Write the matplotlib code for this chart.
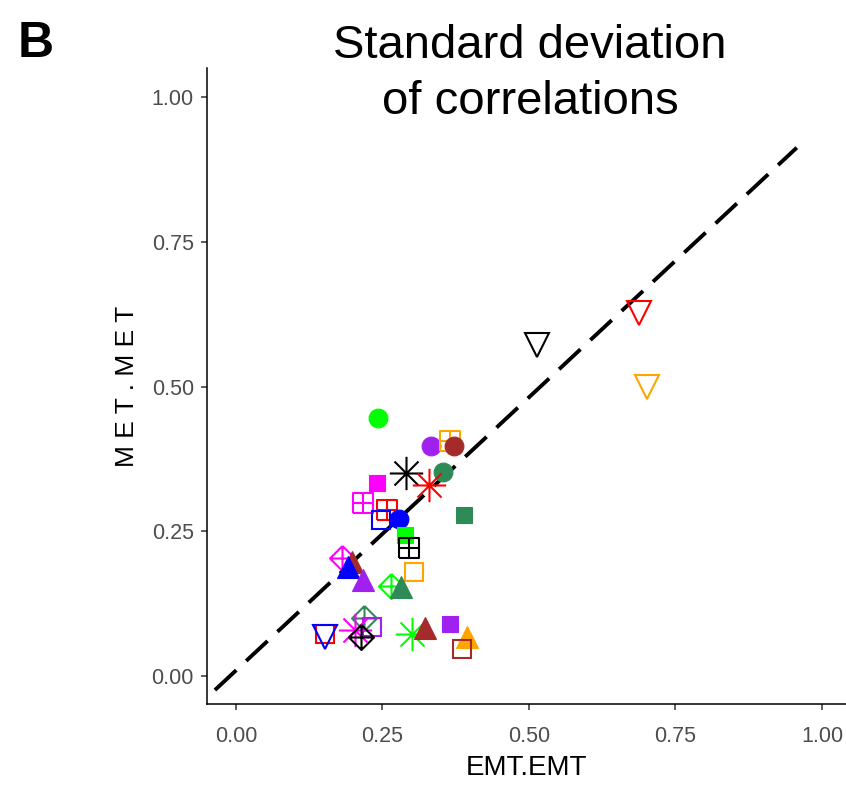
import matplotlib
matplotlib.use("Agg")
import matplotlib.pyplot as plt
from matplotlib.path import Path

# ---- data ----
emt = [0.242, 0.333, 0.365, 0.372, 0.290, 0.353, 0.329, 0.241, 0.217, 0.258,
       0.247, 0.278, 0.389, 0.288, 0.295, 0.304, 0.181, 0.198, 0.191, 0.217,
       0.264, 0.282, 0.152, 0.152, 0.218, 0.232, 0.203, 0.213, 0.300, 0.323,
       0.365, 0.394, 0.386, 0.514, 0.688, 0.701]
met = [0.446, 0.397, 0.406, 0.397, 0.351, 0.352, 0.330, 0.333, 0.299, 0.287,
       0.269, 0.271, 0.278, 0.244, 0.221, 0.180, 0.204, 0.197, 0.188, 0.166,
       0.155, 0.154, 0.073, 0.067, 0.100, 0.085, 0.079, 0.067, 0.073, 0.083,
       0.090, 0.067, 0.047, 0.572, 0.627, 0.499]
colors = ["#00FF00", "#A020F0", "#FFA500", "#A52A2A", "#000000", "#2E8B57",
          "#FF0000", "#FF00FF", "#FF00FF", "#FF0000", "#0000FF", "#0000FF",
          "#2E8B57", "#00FF00", "#000000", "#FFA500", "#FF00FF", "#A52A2A",
          "#0000FF", "#A020F0", "#00FF00", "#2E8B57", "#FF0000", "#0000FF",
          "#2E8B57", "#A020F0", "#FF00FF", "#000000", "#00FF00", "#A52A2A",
          "#A020F0", "#FFA500", "#A52A2A", "#000000", "#FF0000", "#FFA500"]
shapes = ["circle", "circle", "sqplus", "circle", "aster", "circle",
          "aster", "square", "sqplus", "sqplus", "opensq", "circle",
          "square", "square", "sqplus", "opensq", "diaplus", "triangle",
          "triangle", "triangle", "diaplus", "triangle", "opensq", "tridown",
          "diaplus", "opensq", "aster", "diaplus", "aster", "triangle",
          "square", "triangle", "opensq", "tridown", "tridown", "tridown"]
# reference line (slope, intercept) and its extent
line_slope = 0.943
line_intercept = 0.010
line_x = [-0.036, 0.957]

x_ticks = [0.0, 0.25, 0.5, 0.75, 1.0]
y_ticks = [0.0, 0.25, 0.5, 0.75, 1.0]
tick_labels = ["0.00", "0.25", "0.50", "0.75", "1.00"]

plt.rcParams["font.family"] = ["Liberation Sans", "DejaVu Sans"]

# ---- markers ----
M, L = Path.MOVETO, Path.LINETO
sqplus = Path([(-1, -1), (1, -1), (1, 1), (-1, 1), (-1, -1),
               (-1, 0), (1, 0), (0, -1), (0, 1)],
              [M, L, L, L, L, M, L, M, L])
diaplus = Path([(0, 1), (1, 0), (0, -1), (-1, 0), (0, 1),
                (-1, 0), (1, 0), (0, -1), (0, 1)],
               [M, L, L, L, L, M, L, M, L])
a = 0.72
aster = Path([(-1, 0), (1, 0), (0, -1), (0, 1), (-a, -a), (a, a), (-a, a), (a, -a)],
             [M, L, M, L, M, L, M, L])

style = {
    "circle":   dict(marker="o", s=13.5, filled=True),
    "square":   dict(marker="s", s=11.5, filled=True),
    "opensq":   dict(marker="s", s=12.5, filled=False),
    "sqplus":   dict(marker=sqplus, s=14, filled=False),
    "diaplus":  dict(marker=diaplus, s=18, filled=False),
    "aster":    dict(marker=aster, s=24, filled=False),
    "triangle": dict(marker="^", s=16.5, filled=True),
    "tridown":  dict(marker="v", s=17.5, filled=False),
}

fig = plt.figure(figsize=(8.46, 7.88), dpi=100)
ax = fig.add_axes([207 / 846, 1 - 704 / 788, (846 - 207) / 846, (704 - 68) / 788])

xlim = (-0.0495, 1.041)
ylim = (-0.048, 1.050)

xs = line_x
ys = [line_intercept + line_slope * v for v in xs]
ax.plot(xs, ys, color="black", lw=2.8, dashes=(7.5, 3.5), zorder=1)

for x, y, c, sh in zip(emt, met, colors, shapes):
    st = style[sh]
    if st["filled"]:
        ax.plot(x, y, marker=st["marker"], ms=st["s"], color=c, mfc=c, mec=c,
                mew=0.8, ls="none", zorder=2)
    else:
        ax.plot(x, y, marker=st["marker"], ms=st["s"], color=c, mfc="none", mec=c,
                mew=1.5, ls="none", zorder=2)

ax.set_xlim(*xlim)
ax.set_ylim(*ylim)
ax.set_xticks(x_ticks)
ax.set_xticklabels(tick_labels)
ax.set_yticks(y_ticks)
ax.set_yticklabels(tick_labels)
for sp in ["top", "right"]:
    ax.spines[sp].set_visible(False)
for sp in ["left", "bottom"]:
    ax.spines[sp].set_linewidth(1.1)
ax.tick_params(axis="both", direction="out", length=4.5, width=1.1, color="#333333",
               labelcolor="#4D4D4D", labelsize=15.5)
ax.tick_params(axis="x", pad=11)
ax.tick_params(axis="y", pad=5)
ax.set_xlabel("EMT.EMT", fontsize=20, labelpad=6)
ax.set_ylabel("M E T . M E T", fontsize=19, labelpad=9)
fig.text(530 / 846, 1 - 24 / 788, "Standard deviation\nof correlations",
         fontsize=34, ha="center", va="top", multialignment="center",
         linespacing=1.35)
fig.text(18 / 846, 1 - 57 / 788, "B", fontsize=36, fontweight="bold")

fig.savefig("out.png", dpi=100)
